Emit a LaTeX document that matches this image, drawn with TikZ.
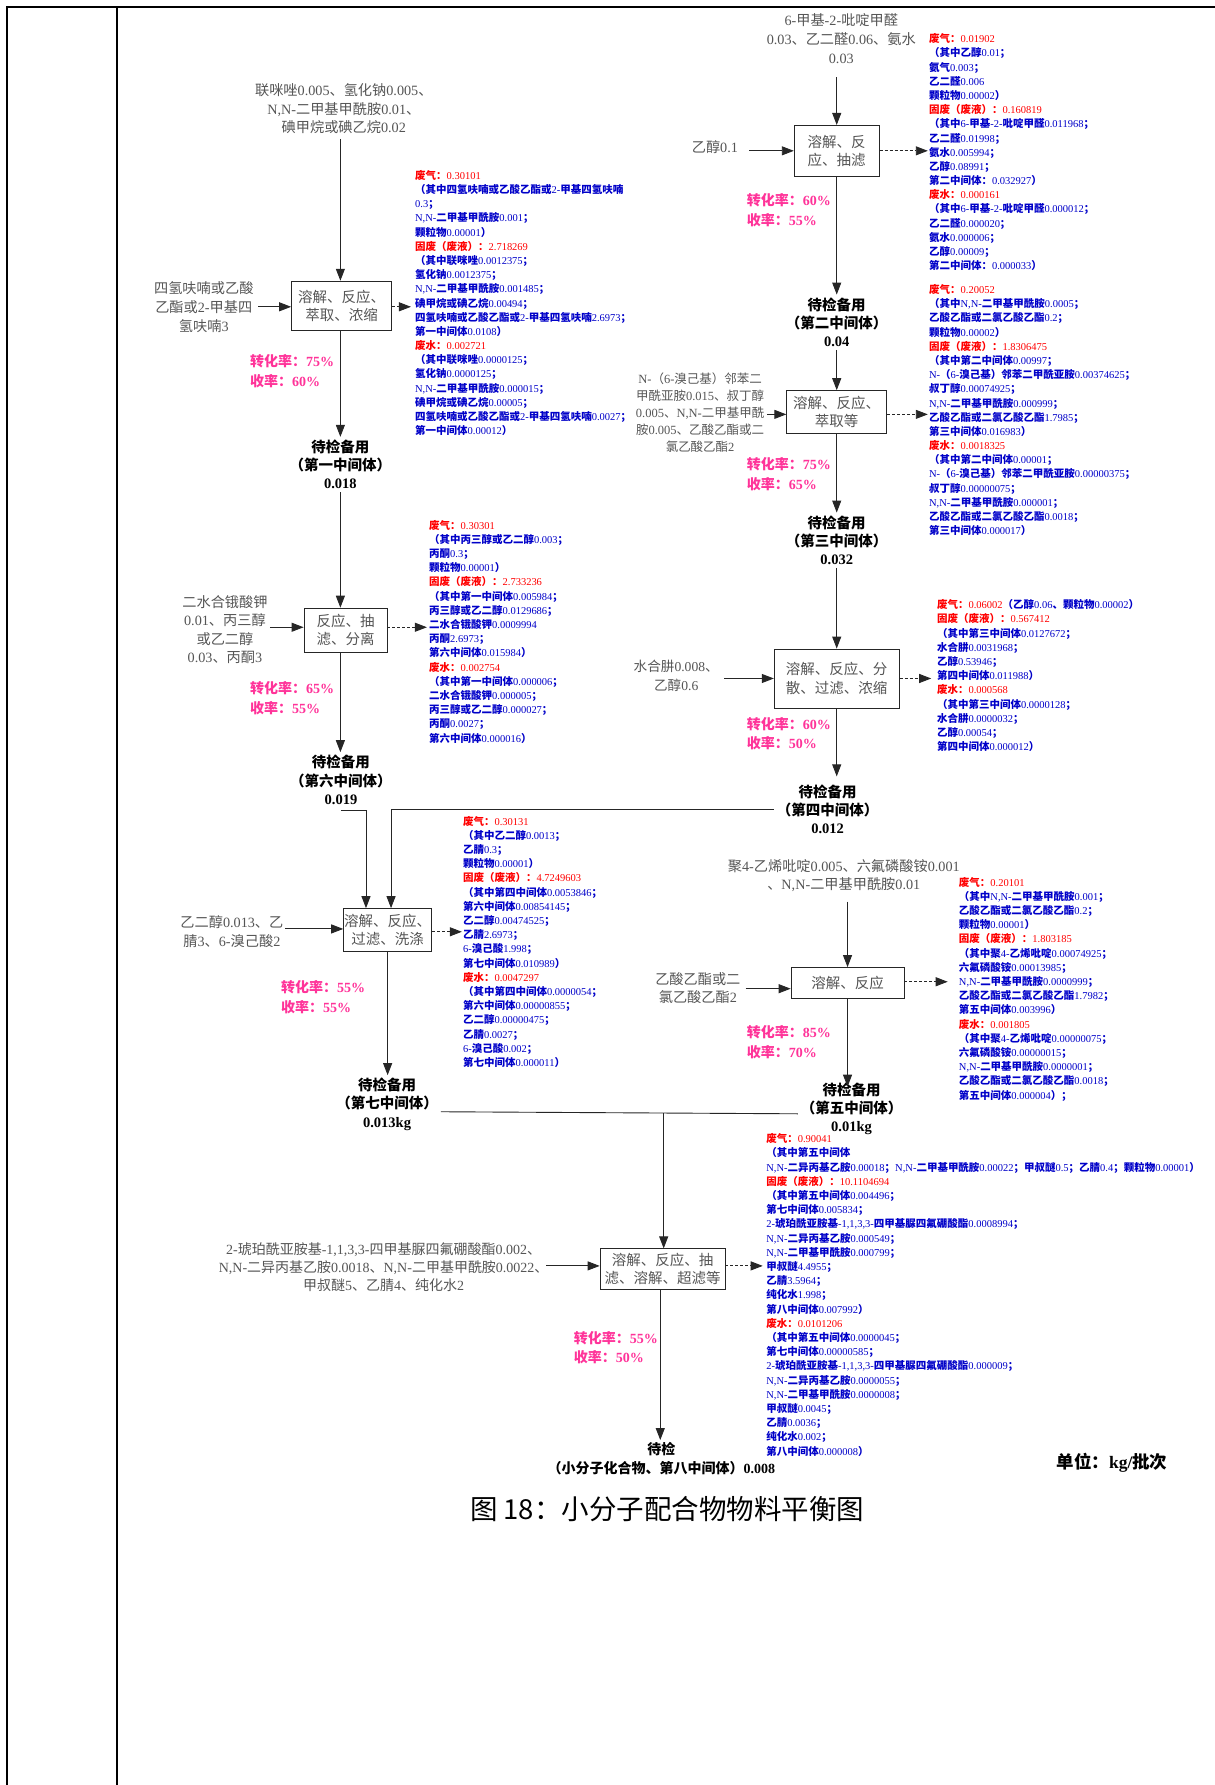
\documentclass[tikz,border=0pt]{standalone}
\usepackage{fontspec}
\usetikzlibrary{arrows.meta}
\setmainfont{Liberation Serif}
\newfontfamily\cjkfam{Noto Sans CJK SC}
\newcommand\cjkbold{\cjkfam\bfseries}
\newcommand\cjkcur{\cjkfam}
% ideographs and full-width punctuation are set in the CJK family
\XeTeXinterchartokenstate=1
\newXeTeXintercharclass\cjkclass
\newcount\cjkcode
\cjkcode="3000\relax
\loop
  \XeTeXcharclass\cjkcode=\cjkclass\relax
  \ifnum\cjkcode<"9FFF\relax
  \advance\cjkcode by 1\relax
\repeat
\cjkcode="FF00\relax
\loop
  \XeTeXcharclass\cjkcode=\cjkclass\relax
  \ifnum\cjkcode<"FFEF\relax
  \advance\cjkcode by 1\relax
\repeat
\XeTeXinterchartoks 0 \cjkclass = {\begingroup\cjkcur}
\XeTeXinterchartoks 4095 \cjkclass = {\begingroup\cjkcur}
\XeTeXinterchartoks \cjkclass 0 = {\endgroup}
\XeTeXinterchartoks \cjkclass 4095 = {\endgroup}

\definecolor{wblue}{RGB}{0,0,200}
\definecolor{wred}{RGB}{255,0,0}
\definecolor{rosa}{RGB}{255,51,153}
\definecolor{ink}{RGB}{85,85,85}
\newcommand\hd[1]{{\color{wred}#1}}

\begin{document}
\begin{tikzpicture}[x=1.1387pt,y=-1.1387pt,
  frame/.style={line width=2.3pt,black},
  proc/.style={draw=black!85,line width=0.8pt,fill=white,inner sep=0pt,align=center,text=ink,font=\fontsize{14.5}{18.2}\selectfont},
  feed/.style={align=center,text=ink,inner sep=0pt,font=\fontsize{14.2}{18.8}\selectfont},
  prod/.style={align=center,inner sep=1pt,outer sep=2pt,font=\fontsize{14.5}{18.2}\selectfont\bfseries},
  rate/.style={align=left,anchor=west,inner sep=0pt,text=rosa,font=\fontsize{14}{19.4}\selectfont\bfseries},
  waste/.style={align=left,anchor=north west,inner sep=0pt,text=wblue,font=\fontsize{10.5}{14.2}\selectfont\let\cjkcur\cjkbold},
  flow/.style={draw=black!85,line width=0.9pt,-{Triangle[length=12pt,width=9pt]}},
  leak/.style={flow,dash pattern=on 3pt off 2pt},
  link/.style={draw=black!85,line width=0.9pt},
]
\useasboundingbox (0,0) rectangle (1067,1568);

% page frame
\draw[frame] (6.3,1568) -- (6.3,6.3) -- (1067,6.3);
\draw[frame] (102.6,6.3) -- (102.6,1568);

% ---------- second intermediate ----------
\node[feed] (inA) at (739,34) {6-甲基-2-吡啶甲醛\\0.03、乙二醛0.06、氨水\\0.03};
\node[proc,minimum width=85pt,minimum height=51pt] (pA) at (735,132.5) {溶解、反\\应、抽滤};
\node[feed] (fA) at (628,129) {乙醇0.1};
\coordinate (sA) at (735,68);
\coordinate (lA) at (658,132.5);
\coordinate (wA) at (815,132.5);
\draw[flow] (pA.north |- sA) -- (pA.north);
\draw[flow] (lA |- pA.west) -- (pA.west);
\draw[leak] (pA.east) -- (wA |- pA.east);
\node[waste] (listA) at (816,29.3) {\hd{废气：0.01902}\\
（其中乙醇0.01；\\
氨气0.003；\\
乙二醛0.006\\
颗粒物0.00002）\\
\hd{固废（废液）：0.160819}\\
（其中6-甲基-2-吡啶甲醛0.011968；\\
乙二醛0.01998；\\
氨水0.005994；\\
乙醇0.08991；\\
第二中间体：0.032927）\\
\hd{废水：0.000161}\\
（其中6-甲基-2-吡啶甲醛0.000012；\\
乙二醛0.000020；\\
氨水0.000006；\\
乙醇0.00009；\\
第二中间体：0.000033）};
\node[rate] (rA) at (656,184.5) {转化率：60\%\\收率：55\%};
\node[prod] (oA) at (735,283) {待检备用\\（第二中间体）\\0.04};
\draw[flow] (pA.south) -- (oA.north);

% ---------- third intermediate ----------
\node[proc,minimum width=100pt,minimum height=43pt] (pB) at (735,362) {溶解、反应、\\萃取等};
\node[feed,font=\fontsize{12.5}{16.8}\selectfont] (fB) at (615,362.5) {N-（6-溴己基）邻苯二\\甲酰亚胺0.015、叔丁醇\\0.005、N,N-二甲基甲酰\\胺0.005、乙酸乙酯或二\\氯乙酸乙酯2};
\coordinate (lB) at (674,364);
\coordinate (wB) at (815,364);
\draw[flow] (oA.south) -- (pB.north);
\draw[flow] (lB) -- (pB.west |- lB);
\draw[leak] (pB.east |- lB) -- (wB);
\node[waste] (listB) at (816,249.6) {\hd{废气：0.20052}\\
（其中N,N-二甲基甲酰胺0.0005；\\
乙酸乙酯或二氯乙酸乙酯0.2；\\
颗粒物0.00002）\\
\hd{固废（废液）：1.8306475}\\
（其中第二中间体0.00997；\\
N-（6-溴己基）邻苯二甲酰亚胺0.00374625；\\
叔丁醇0.00074925；\\
N,N-二甲基甲酰胺0.000999；\\
乙酸乙酯或二氯乙酸乙酯1.7985；\\
第三中间体0.016983）\\
\hd{废水：0.0018325}\\
（其中第二中间体0.00001；\\
N-（6-溴己基）邻苯二甲酰亚胺0.00000375；\\
叔丁醇0.00000075；\\
N,N-二甲基甲酰胺0.000001；\\
乙酸乙酯或二氯乙酸乙酯0.0018；\\
第三中间体0.000017）};
\node[rate] (rB) at (656,416.5) {转化率：75\%\\收率：65\%};
\node[prod] (oB) at (735,474.5) {待检备用\\（第三中间体）\\0.032};
\draw[flow] (pB.south) -- (oB.north);

% ---------- fourth intermediate ----------
\node[proc,minimum width=125pt,minimum height=59pt] (pC) at (735,596) {溶解、反应、分\\散、过滤、浓缩};
\node[feed,font=\fontsize{13.6}{18.8}\selectfont] (fC) at (594,593.5) {水合肼0.008、\\乙醇0.6};
\coordinate (lC) at (636,596);
\coordinate (wC) at (818,596);
\draw[flow] (oB.south) -- (pC.north);
\draw[flow] (lC) -- (pC.west);
\draw[leak] (pC.east) -- (wC);
\node[waste] (listC) at (823,526.6) {\hd{废气：0.06002}（乙醇0.06、颗粒物0.00002）\\
\hd{固废（废液）：0.567412}\\
（其中第三中间体0.0127672；\\
水合肼0.0031968；\\
乙醇0.53946；\\
第四中间体0.011988）\\
\hd{废水：0.000568}\\
（其中第三中间体0.0000128；\\
水合肼0.0000032；\\
乙醇0.00054；\\
第四中间体0.000012）};
\node[rate] (rC) at (656,644.5) {转化率：60\%\\收率：50\%};
\node[prod] (oC) at (727,711) {待检备用\\（第四中间体）\\0.012};
\coordinate (tC) at (735,682);
\draw[flow] (pC.south) -- (tC);

% ---------- first intermediate ----------
\node[feed] (inL) at (302,95.5) {联咪唑0.005、氢化钠0.005、\\N,N-二甲基甲酰胺0.01、\\碘甲烷或碘乙烷0.02};
\node[proc,minimum width=100pt,minimum height=49pt] (pL) at (300,268.5) {溶解、反应、\\萃取、浓缩};
\node[feed] (fL) at (179,269.5) {四氢呋喃或乙酸\\乙酯或2-甲基四\\氢呋喃3};
\coordinate (sL) at (299,122);
\coordinate (lL) at (227,269.5);
\coordinate (wL) at (361,269.5);
\draw[flow] (sL) -- (sL |- pL.north);
\draw[flow] (lL) -- (pL.west |- lL);
\draw[leak] (pL.east |- wL) -- (wL);
\node[waste] (listL) at (364.5,149.3) {\hd{废气：0.30101}\\
（其中四氢呋喃或乙酸乙酯或2-甲基四氢呋喃\\
0.3；\\
N,N-二甲基甲酰胺0.001；\\
颗粒物0.00001）\\
\hd{固废（废液）：2.718269}\\
（其中联咪唑0.0012375；\\
氢化钠0.0012375；\\
N,N-二甲基甲酰胺0.001485；\\
碘甲烷或碘乙烷0.00494；\\
四氢呋喃或乙酸乙酯或2-甲基四氢呋喃2.6973；\\
第一中间体0.0108）\\
\hd{废水：0.002721}\\
（其中联咪唑0.0000125；\\
氢化钠0.0000125；\\
N,N-二甲基甲酰胺0.000015；\\
碘甲烷或碘乙烷0.00005；\\
四氢呋喃或乙酸乙酯或2-甲基四氢呋喃0.0027；\\
第一中间体0.00012）};
\node[rate] (rL) at (219.6,326) {转化率：75\%\\收率：60\%};
\node[prod] (oL) at (299,408) {待检备用\\（第一中间体）\\0.018};
\draw[flow] (sL |- pL.south) -- (sL |- oL.north);

% ---------- sixth intermediate ----------
\node[proc,minimum width=83pt,minimum height=44pt] (pM) at (303.5,553.5) {反应、抽\\滤、分离};
\node[feed,font=\fontsize{14.2}{18.3}\selectfont] (fM) at (197.6,553) {二水合锇酸钾\\0.01、丙三醇\\或乙二醇\\0.03、丙酮3};
\coordinate (lM) at (237,551);
\coordinate (wM) at (375,551);
\draw[flow] (oL.south) -- (oL.south |- pM.north);
\draw[flow] (lM) -- (pM.west |- lM);
\draw[leak] (pM.east |- wM) -- (wM);
\node[waste] (listM) at (376.8,456.6) {\hd{废气：0.30301}\\
（其中丙三醇或乙二醇0.003；\\
丙酮0.3；\\
颗粒物0.00001）\\
\hd{固废（废液）：2.733236}\\
（其中第一中间体0.005984；\\
丙三醇或乙二醇0.0129686；\\
二水合锇酸钾0.0009994\\
丙酮2.6973；\\
第六中间体0.015984）\\
\hd{废水：0.002754}\\
（其中第一中间体0.000006；\\
二水合锇酸钾0.000005；\\
丙三醇或乙二醇0.000027；\\
丙酮0.0027；\\
第六中间体0.000016）};
\node[rate] (rM) at (219.6,613.4) {转化率：65\%\\收率：55\%};
\node[prod] (oM) at (299.5,685) {待检备用\\（第六中间体）\\0.019};
\draw[flow] (oL.south |- pM.south) -- (oL.south |- oM.north);

% ---------- seventh intermediate ----------
\node[proc,minimum width=88pt,minimum height=43pt] (pN) at (340.5,817) {溶解、反应、\\过滤、洗涤};
\node[feed] (fN) at (203.7,818) {乙二醇0.013、乙\\腈3、6-溴己酸2};
\coordinate (jM) at (299.5,711.5);
\coordinate (kM) at (321.5,711.5);
\coordinate (kC) at (343.5,711.5);
\coordinate (lN) at (250.3,816);
\coordinate (wN) at (405.7,818.5);
\draw[flow] (jM) -- (kM) -- (kM |- pN.north);
\draw[flow] (oC.west) -| (kC |- pN.north);
\draw[flow] (lN) -- (pN.west |- lN);
\draw[leak] (pN.east |- wN) -- (wN);
\node[waste] (listN) at (406.6,716.6) {\hd{废气：0.30131}\\
（其中乙二醇0.0013；\\
乙腈0.3；\\
颗粒物0.00001）\\
\hd{固废（废液）：4.7249603}\\
（其中第四中间体0.0053846；\\
第六中间体0.00854145；\\
乙二醇0.00474525；\\
乙腈2.6973；\\
6-溴己酸1.998；\\
第七中间体0.010989）\\
\hd{废水：0.0047297}\\
（其中第四中间体0.0000054；\\
第六中间体0.00000855；\\
乙二醇0.00000475；\\
乙腈0.0027；\\
6-溴己酸0.002；\\
第七中间体0.000011）};
\node[rate] (rN) at (246.8,876) {转化率：55\%\\收率：55\%};
\node[prod] (oN) at (340,970) {待检备用\\（第七中间体）\\0.013kg};
\draw[flow] (pN.south) -- (pN.south |- oN.north);

% ---------- fifth intermediate ----------
\node[feed,font=\fontsize{14.2}{18}\selectfont] (inP) at (741.2,769.3) {聚4-乙烯吡啶0.005、六氟磷酸铵0.001\\、N,N-二甲基甲酰胺0.01};
\node[proc,minimum width=113pt,minimum height=31pt] (pP) at (744.5,863.5) {溶解、反应};
\node[feed,font=\fontsize{14.2}{18}\selectfont] (fP) at (613,868) {乙酸乙酯或二\\氯乙酸乙酯2};
\coordinate (sP) at (744.5,792);
\coordinate (lP) at (655,868.5);
\coordinate (wP) at (832.5,862.4);
\coordinate (tP) at (744.5,954.6);
\draw[flow] (sP) -- (pP.north);
\draw[flow] (lP) -- (pP.west |- lP);
\draw[leak] (pP.east |- wP) -- (wP);
\node[waste] (listP) at (842.2,770.2) {\hd{废气：0.20101}\\
（其中N,N-二甲基甲酰胺0.001；\\
乙酸乙酯或二氯乙酸乙酯0.2；\\
颗粒物0.00001）\\
\hd{固废（废液）：1.803185}\\
（其中聚4-乙烯吡啶0.00074925；\\
六氟磷酸铵0.00013985；\\
N,N-二甲基甲酰胺0.0000999；\\
乙酸乙酯或二氯乙酸乙酯1.7982；\\
第五中间体0.003996）\\
\hd{废水：0.001805}\\
（其中聚4-乙烯吡啶0.00000075；\\
六氟磷酸铵0.00000015；\\
N,N-二甲基甲酰胺0.0000001；\\
乙酸乙酯或二氯乙酸乙酯0.0018；\\
第五中间体0.000004）；};
\node[rate] (rP) at (656,915.5) {转化率：85\%\\收率：70\%};
\node[prod] (oP) at (748,974) {待检备用\\（第五中间体）\\0.01kg};
\draw[flow] (pP.south) -- (tP);

% ---------- final product ----------
\node[proc,minimum width=125pt,minimum height=41pt] (pQ) at (582,1115) {溶解、反应、抽\\滤、溶解、超滤等};
\node[feed,font=\fontsize{14}{18.2}\selectfont] (fQ) at (337,1113) {2-琥珀酰亚胺基-1,1,3,3-四甲基脲四氟硼酸酯0.002、\\N,N-二异丙基乙胺0.0018、N,N-二甲基甲酰胺0.0022、\\甲叔醚5、乙腈4、纯化水2};
\coordinate (mN) at ([yshift=-7.5pt]oN.east);
\coordinate (mP) at ([yshift=-5pt]oP.west);
\coordinate (jQ) at (583,978);
\coordinate (lQ) at (480,1112);
\coordinate (wQ) at (670,1112);
\draw[link] (mN) -- (mP);
\draw[flow] (jQ) -- (jQ |- pQ.north);
\draw[flow] (lQ) -- (pQ.west |- lQ);
\draw[leak] (pQ.east |- wQ) -- (wQ);
\node[waste] (listQ) at (673,995.6) {\hd{废气：0.90041}\\
（其中第五中间体\\
N,N-二异丙基乙胺0.00018；N,N-二甲基甲酰胺0.00022；甲叔醚0.5；乙腈0.4；颗粒物0.00001）\\
\hd{固废（废液）：10.1104694}\\
（其中第五中间体0.004496；\\
第七中间体0.005834；\\
2-琥珀酰亚胺基-1,1,3,3-四甲基脲四氟硼酸酯0.0008994；\\
N,N-二异丙基乙胺0.000549；\\
N,N-二甲基甲酰胺0.000799；\\
甲叔醚4.4955；\\
乙腈3.5964；\\
纯化水1.998；\\
第八中间体0.007992）\\
\hd{废水：0.0101206}\\
（其中第五中间体0.0000045；\\
第七中间体0.00000585；\\
2-琥珀酰亚胺基-1,1,3,3-四甲基脲四氟硼酸酯0.000009；\\
N,N-二异丙基乙胺0.0000055；\\
N,N-二甲基甲酰胺0.0000008；\\
甲叔醚0.0045；\\
乙腈0.0036；\\
纯化水0.002；\\
第八中间体0.000008）};
\node[rate] (rQ) at (504,1184) {转化率：55\%\\收率：50\%};
\node[prod,font=\fontsize{14}{19.4}\selectfont\bfseries] (oQ) at (581,1281.5) {待检\\（小分子化合物、第八中间体）0.008};
\coordinate (tQ) at (580,1265);
\draw[flow] (tQ |- pQ.south) -- (tQ);

\node[anchor=west,inner sep=0pt,font=\fontsize{17.5}{20}\selectfont\bfseries] (unit) at (928,1285) {单位：kg/批次};
\node[inner sep=0pt,font=\fontsize{27.5}{32}\selectfont\cjkfam] (title) at (586,1326) {图 18：小分子配合物物料平衡图};
\end{tikzpicture}
\end{document}
